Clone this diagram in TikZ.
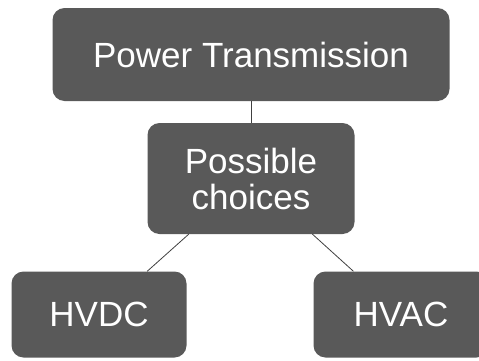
\documentclass[tikz,border=0pt]{standalone}
\usepackage{fontspec}
\setmainfont{Liberation Sans}
\usetikzlibrary{positioning}
\definecolor{boxgray}{HTML}{595959}

\begin{document}
\begin{tikzpicture}[node distance=124pt, on grid,
  box/.style={fill=boxgray, rounded corners=12pt, text=white, align=center,
    inner sep=0pt, font=\fontsize{35}{36}\selectfont},
  link/.style={draw=black!75, line width=0.8pt}]
  \useasboundingbox (0,0) rectangle (479pt,360pt);
  \clip (0,0) rectangle (479pt,360pt);

  \node[box, minimum width=397pt, minimum height=93pt] (power) at (251pt,305.5pt) {Power Transmission};
  \node[box, minimum width=207pt, minimum height=111pt] (choices) [below=of power] {Possible\\choices};
  \node[box, minimum width=175pt, minimum height=86pt] (hvdc) [below left=136pt and 152pt of choices] {HVDC};
  \node[box, minimum width=175pt, minimum height=86pt] (hvac) [below right=136pt and 150pt of choices] {HVAC};

  \path[link]
  (power) edge (choices)
  (choices) edge (hvdc)
  (choices) edge (hvac);
\end{tikzpicture}
\end{document}
